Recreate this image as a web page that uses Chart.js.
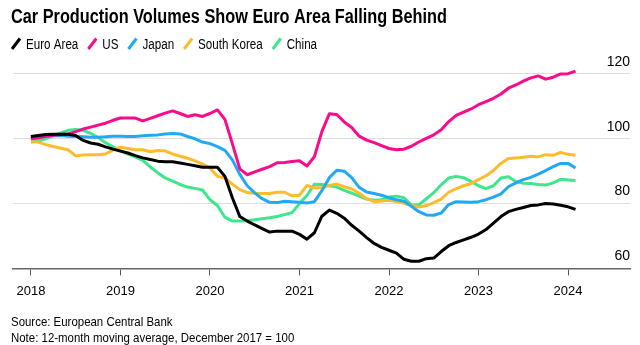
<!DOCTYPE html>
<html>
<head>
<meta charset="utf-8">
<script src="https://cdn.jsdelivr.net/npm/chart.js@4"></script>
<style>
  body { margin: 0; background: #fff; }
</style>
</head>
<body>
<canvas id="chart" width="640" height="345"></canvas>
<script>
// Monthly index values, Jan 2018 .. Feb 2024 (12-month moving average, Dec 2017 = 100)
const euroArea = [
  100.7, 101.0, 101.3, 101.4, 101.4, 101.4, 101.0, 99.5, 98.7, 98.3, 97.5, 96.8,
  96.2, 95.6, 94.8, 94.1, 93.6, 93.1, 92.9, 92.9, 92.5, 92.1, 91.7, 91.2,
  91.2, 91.2, 88.4, 81.8, 76.0, 74.6, 73.4, 72.3, 71.2, 71.5, 71.5, 71.5,
  70.5, 69.0, 71.0, 76.1, 78.0, 77.0, 75.5, 73.3, 71.5, 69.5, 67.7, 66.5,
  65.6, 64.7, 62.8, 62.2, 62.2, 63.0, 63.2, 65.2, 67.0, 68.0, 68.8, 69.6,
  70.6, 72.0, 74.0, 76.0, 77.5, 78.2, 78.8, 79.4, 79.6, 80.0, 79.9, 79.5,
  79.0, 78.2
];
const us = [
  100.0, 100.3, 100.8, 101.1, 101.3, 101.5, 102.2, 103.0, 103.6, 104.2, 104.8, 105.7,
  106.4, 106.4, 106.4, 105.5, 106.3, 107.1, 107.9, 108.6, 107.8, 106.9, 107.4, 106.9,
  107.8, 108.9, 106.0, 98.5, 90.7, 88.9, 89.8, 90.6, 91.4, 92.6, 92.7, 93.0,
  93.2, 91.6, 94.5, 102.2, 107.7, 107.5, 105.2, 103.5, 100.8, 99.6, 98.8, 97.9,
  97.0, 96.6, 96.8, 97.7, 99.0, 100.1, 101.2, 102.8, 105.3, 107.2, 108.2, 109.2,
  110.5, 111.5, 112.5, 113.8, 115.6, 116.6, 117.8, 118.8, 119.4, 118.4, 119.0, 120.0,
  120.1, 120.9
];
const japan = [
  100.4, 100.5, 100.7, 100.9, 101.0, 100.8, 100.7, 100.6, 100.5, 100.5, 100.6, 100.8,
  100.8, 100.7, 100.7, 100.9, 101.1, 101.2, 101.5, 101.6, 101.5, 100.7, 100.0, 99.0,
  98.5, 97.6, 96.4, 93.5, 89.0, 85.5, 83.3, 81.5, 80.4, 80.3, 80.7, 80.6,
  80.4, 80.2, 80.6, 84.0, 88.0, 90.3, 90.0, 88.0, 85.0, 83.6, 83.1, 82.6,
  81.8, 81.2, 80.7, 79.2, 77.5, 76.5, 76.4, 77.1, 79.7, 80.6, 80.5, 80.4,
  80.6, 81.2, 82.0, 83.0, 85.2, 86.4, 87.4, 88.1, 89.1, 90.2, 91.4, 92.4,
  92.4, 91.0
];
const southKorea = [
  99.0, 99.0, 98.2, 97.6, 97.1, 96.6, 94.7, 95.0, 95.1, 95.1, 95.3, 96.5,
  97.4, 97.0, 96.6, 96.6, 96.0, 96.4, 96.3, 95.3, 94.6, 94.0, 93.2, 92.2,
  91.0, 88.4, 87.9, 86.0, 84.3, 83.4, 83.2, 83.1, 83.1, 83.5, 83.5, 82.4,
  82.6, 85.6, 84.8, 85.0, 85.6, 86.0, 85.2, 84.5, 83.2, 81.5, 80.6, 80.8,
  81.0, 80.6, 80.1, 79.5, 78.9, 79.4, 80.3, 81.4, 83.5, 84.6, 85.5, 86.2,
  87.4, 88.6, 90.2, 92.4, 93.9, 94.1, 94.3, 94.6, 94.4, 95.1, 94.9, 95.8,
  95.2, 94.9
];
const china = [
  100.0, 99.4, 100.0, 101.0, 101.8, 102.6, 102.9, 102.6, 101.7, 100.4, 98.8, 97.5,
  96.3, 95.3, 94.4, 93.3, 91.3, 89.5, 87.9, 86.9, 85.9, 85.1, 84.7, 84.2,
  81.2, 79.4, 75.8, 74.6, 74.6, 74.7, 75.0, 75.3, 75.6, 76.0, 76.6, 77.2,
  80.0, 82.5, 86.0, 85.9, 85.5, 85.1, 84.1, 83.2, 82.3, 81.4, 81.0, 81.2,
  82.0, 82.3, 81.8, 79.6, 79.6, 81.5, 83.4, 85.8, 87.9, 88.4, 88.0, 86.8,
  85.5, 84.6, 85.5, 87.9, 88.3, 86.8, 86.3, 86.2, 85.9, 85.7, 86.4, 87.5,
  87.3, 87.1
];

const seriesNames = ['Euro Area', 'US', 'Japan', 'South Korea', 'China'];
const seriesColors = ['#000000', '#fb0a8c', '#22a9f4', '#ffbb2e', '#3fe68b'];
const years = [2018, 2019, 2020, 2021, 2022, 2023, 2024];
const yTicks = [60, 80, 100, 120];

const chartTitle = 'Car Production Volumes Show Euro Area Falling Behind';
const footNotes = [
  'Source: European Central Bank',
  'Note: 12-month moving average, December 2017 = 100'
];

const regular = '"Liberation Sans", Arial, sans-serif';

// draw text squeezed horizontally, to mimic a narrow face
function narrowText(ctx, text, x, y, k) {
  ctx.save();
  ctx.translate(x, y);
  ctx.scale(k, 1);
  ctx.fillText(text, 0, 0);
  ctx.restore();
  return ctx.measureText(text).width * k;
}

// title, slash-marker legend and footnotes
const header = {
  id: 'header',
  afterDraw(chart) {
    const ctx = chart.ctx;
    ctx.save();
    ctx.fillStyle = '#000';
    ctx.textBaseline = 'alphabetic';
    ctx.textAlign = 'left';

    ctx.font = 'bold 20px ' + regular;
    const k = 436 / ctx.measureText(chartTitle).width;
    narrowText(ctx, chartTitle, 11, 23, k);

    ctx.font = '14px ' + regular;
    let x = 11;
    chart.data.datasets.forEach(ds => {
      ctx.strokeStyle = ds.borderColor;
      ctx.lineWidth = 3;
      ctx.lineCap = 'butt';
      ctx.beginPath();
      ctx.moveTo(x + 1, 49);
      ctx.lineTo(x + 9, 38.5);
      ctx.stroke();
      ctx.fillStyle = '#000';
      x += 15 + narrowText(ctx, ds.label, x + 15, 48.5, 0.83) + 9;
    });

    ctx.font = '13px ' + regular;
    narrowText(ctx, footNotes[0], 11, 326, 0.88);
    narrowText(ctx, footNotes[1], 11, 341.5, 0.88);
    ctx.restore();
  }
};

const toPoints = arr => arr.map((v, i) => ({ x: i, y: v }));

const datasets = [euroArea, us, japan, southKorea, china].map((arr, i) => ({
  label: seriesNames[i],
  data: toPoints(arr),
  borderColor: seriesColors[i],
  backgroundColor: seriesColors[i],
  borderWidth: 3,
  pointRadius: 0,
  tension: 0,
  borderJoinStyle: 'round'
}));

new Chart(document.getElementById('chart'), {
  type: 'line',
  data: { datasets },
  plugins: [header],
  options: {
    responsive: false,
    animation: false,
    layout: { padding: { left: 13, right: 10, top: 61, bottom: 38 } },
    plugins: {
      title: { display: false },
      legend: { display: false },
      tooltip: { enabled: false }
    },
    scales: {
      x: {
        type: 'linear',
        min: -2.4,
        max: 80.3,
        afterBuildTicks(scale) {
          scale.ticks = years.map((y, i) => ({ value: i * 12 }));
        },
        ticks: {
          color: '#000',
          font: { family: regular, size: 13 },
          padding: 8,
          maxRotation: 0,
          callback: v => String(years[0] + v / 12)
        },
        grid: {
          drawOnChartArea: false,
          drawTicks: true,
          tickLength: 7,
          color: '#555',
          lineWidth: 1
        },
        border: { display: true, color: '#666', width: 1.5 }
      },
      y: {
        position: 'right',
        min: 60,
        max: 124,
        afterBuildTicks(scale) {
          scale.ticks = yTicks.map(v => ({ value: v }));
        },
        ticks: {
          mirror: true,
          padding: 0,
          labelOffset: -12,
          color: '#000',
          font: { family: regular, size: 14 }
        },
        grid: {
          color: '#dddddd',
          lineWidth: 1,
          drawTicks: false
        },
        border: { display: false }
      }
    }
  }
});
</script>
</body>
</html>
